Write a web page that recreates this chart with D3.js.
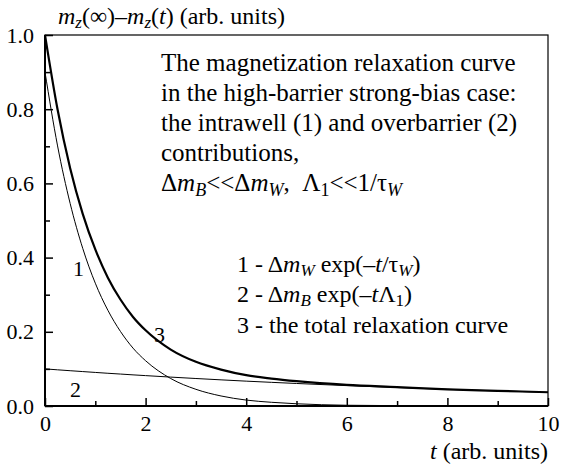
<!DOCTYPE html>
<html><head><meta charset="utf-8">
<script src="https://cdn.jsdelivr.net/npm/d3@7"></script>
</head>
<body style="margin:0">
<script>
// ---- data ----
const tValues = [0,0.25,0.5,0.75,1,1.25,1.5,1.75,2,2.5,3,3.5,4,4.5,5,6,7,8,9,10];
const curve1 = [0.900,0.701,0.546,0.425,0.331,0.258,0.201,0.156,0.122,0.074,0.045,0.027,0.016,0.010,0.006,0.002,0.001,0.000,0.000,0.000];
const curve2 = [0.100,0.0975,0.0951,0.0928,0.0905,0.0882,0.0861,0.0839,0.0819,0.0779,0.0741,0.0705,0.0670,0.0638,0.0607,0.0549,0.0497,0.0449,0.0407,0.0368];
const curve3 = [1.000,0.799,0.641,0.518,0.422,0.346,0.287,0.240,0.204,0.152,0.119,0.098,0.083,0.074,0.067,0.057,0.051,0.045,0.041,0.037];
const xTicks = [0,1,2,3,4,5,6,7,8,9,10];
const xTickLabels = ["0","","2","","4","","6","","8","","10"];
const yTicks = [0,0.1,0.2,0.3,0.4,0.5,0.6,0.7,0.8,0.9,1.0];
const yTickLabels = ["0.0","","0.2","","0.4","","0.6","","0.8","","1.0"];

const W = 561, H = 468;
const m = {left:45, right:13, top:35, bottom:62};
const svg = d3.select("body").append("svg").attr("width",W).attr("height",H);
const x = d3.scaleLinear().domain([0,10]).range([m.left, W-m.right]);
const y = d3.scaleLinear().domain([0,1]).range([H-m.bottom, m.top]);

// frame
svg.append("rect").attr("x",x(0)).attr("y",y(1)).attr("width",x(10)-x(0)).attr("height",y(0)-y(1))
  .attr("fill","none").attr("stroke","#000").attr("stroke-width",1.2);
svg.append("line").attr("x1",x(0)).attr("x2",x(10)).attr("y1",y(0)).attr("y2",y(0)).attr("stroke","#000").attr("stroke-width",2);
svg.append("line").attr("x1",x(0)).attr("x2",x(0)).attr("y1",y(0)).attr("y2",y(1)).attr("stroke","#000").attr("stroke-width",2);

// axes with inward ticks
const xAxis = d3.axisBottom(x).tickValues(xTicks).tickSizeInner(0).tickSizeOuter(0).tickFormat((d,i)=>xTickLabels[i]);
const gx = svg.append("g").attr("transform",`translate(0,${y(0)})`).call(xAxis);
gx.attr("font-family",null).attr("font-size",null);
gx.select(".domain").remove();
gx.selectAll(".tick line").attr("y2",(d,i)=> i%2===0 ? -8 : -5).attr("stroke-width",1.5);
gx.selectAll(".tick text").attr("y",9).attr("dy","0.71em").attr("fill","#000").attr("font-family","Liberation Serif").attr("font-size",22);

const yAxis = d3.axisLeft(y).tickValues(yTicks).tickSizeInner(0).tickSizeOuter(0).tickFormat((d,i)=>yTickLabels[i]);
const gy = svg.append("g").attr("transform",`translate(${x(0)},0)`).call(yAxis);
gy.attr("font-family",null).attr("font-size",null);
gy.select(".domain").remove();
gy.selectAll(".tick line").attr("x2",(d,i)=> i%2===0 ? 8 : 5).attr("stroke-width",1.5);
gy.selectAll(".tick text").attr("x",-11).attr("dy","0.32em").attr("fill","#000").attr("font-family","Liberation Serif").attr("font-size",22);

// curves
const mk = arr => tValues.map((t,i)=>[t,arr[i]]);
const line = d3.line().x(d=>x(d[0])).y(d=>y(d[1])).curve(d3.curveMonotoneX);
svg.append("path").attr("d",line(mk(curve1))).attr("fill","none").attr("stroke","#000").attr("stroke-width",1);
svg.append("path").attr("d",line(mk(curve2))).attr("fill","none").attr("stroke","#000").attr("stroke-width",1);
svg.append("path").attr("d",line(mk(curve3))).attr("fill","none").attr("stroke","#000").attr("stroke-width",2.2);

// rich text helper: segments [text, flags] flags: i=italic, s=subscript
function rich(xx, yy, segs, size, anchor){
  const t = svg.append("text").attr("x",xx).attr("y",yy).attr("font-size",size)
    .attr("font-family","Liberation Serif");
  if (anchor) t.attr("text-anchor",anchor);
  let sub = false;
  segs.forEach(([s,f])=>{
    f = f||"";
    const isSub = f.includes("s");
    const ts = t.append("tspan").text(s);
    if (f.includes("i")) ts.attr("font-style","italic");
    if (isSub) ts.attr("font-size",Math.round(size*0.7));
    if (isSub && !sub) ts.attr("dy",Math.round(size*0.18));
    if (!isSub && sub) ts.attr("dy",-Math.round(size*0.18));
    sub = isSub;
  });
  return t;
}

// y title
rich(58, 24, [["m","i"],["z","is"],["(\u221E)\u2013"],["m","i"],["z","is"],["("],["t","i"],[") (arb. units)"]], 24);
// x title
rich(548, 459, [["t","i"],[" (arb. units)"]], 24, "end");

// description
const fs = 25;
rich(161,71,[["The magnetization relaxation curve"]],fs);
rich(161,101,[["in the high-barrier strong-bias case:"]],fs);
rich(161,131,[["the intrawell (1) and overbarrier (2)"]],fs);
rich(161,161,[["contributions,"]],fs);
rich(161,191,[["\u0394"],["m","i"],["B","is"],["<<\u0394"],["m","i"],["W","is"],[",\u00A0\u00A0\u039B"],["1","s"],["<<1/\u03C4"],["W","is"]],fs);

// legend
const ls = 24;
rich(237,272,[["1 - \u0394"],["m","i"],["W","is"],[" exp(\u2013"],["t","i"],["/\u03C4"],["W","is"],[")"]],ls);
rich(237,302,[["2 - \u0394"],["m","i"],["B","is"],[" exp(\u2013"],["t","i"],["\u039B"],["1","s"],[")"]],ls);
rich(237,333,[["3 - the total relaxation curve"]],ls);

// curve labels
rich(73,276,[["1"]],22);
rich(154,342,[["3"]],22);
rich(70,397,[["2"]],22);
</script>
</body></html>
